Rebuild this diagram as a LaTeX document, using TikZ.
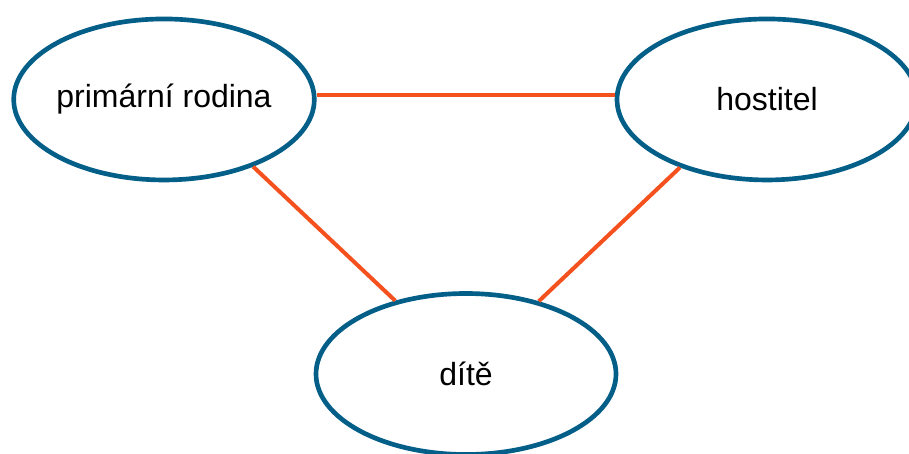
\documentclass[tikz,border=0pt]{standalone}
\usepackage{fontspec}
\setmainfont{Liberation Sans}
\usetikzlibrary{positioning, shapes.geometric}
\definecolor{nodeblue}{HTML}{035E88}
\definecolor{lineorange}{HTML}{F4511E}

\begin{document}
\begin{tikzpicture}
    [
        node distance=205.9pt and 452.25pt, on grid, auto,
        blue_node/.style={ellipse, draw=nodeblue, fill=white, line width=3.5pt, inner sep=0pt, inner xsep=-1pt, minimum width=225pt, minimum height=120.75pt, font=\fontsize{24}{28}\selectfont},
    ]
        \clip (0,0) rectangle (681.75pt,-339.75pt) ;
        \useasboundingbox (0,0) rectangle (681.75pt,-339.75pt) ;
        \node[blue_node] (family) at (123pt,-74.6pt) {primární rodina} ;
        \node[blue_node] (host) [right = of family] {hostitel} ;
        \node[blue_node] (child) [below right = 205.9pt and 226.5pt of family] {dítě} ;
        \draw[-, line width=3pt, color=lineorange] ([yshift=3.4pt]family.east) -- ([yshift=3.4pt]host.west) ;
        \draw[-, line width=3pt, color=lineorange] (family.-37.6) -- (child.134.6) ;
        \draw[-, line width=3pt, color=lineorange] (host.-142.4) -- (child.45.4) ;
    \end{tikzpicture}
\end{document}
